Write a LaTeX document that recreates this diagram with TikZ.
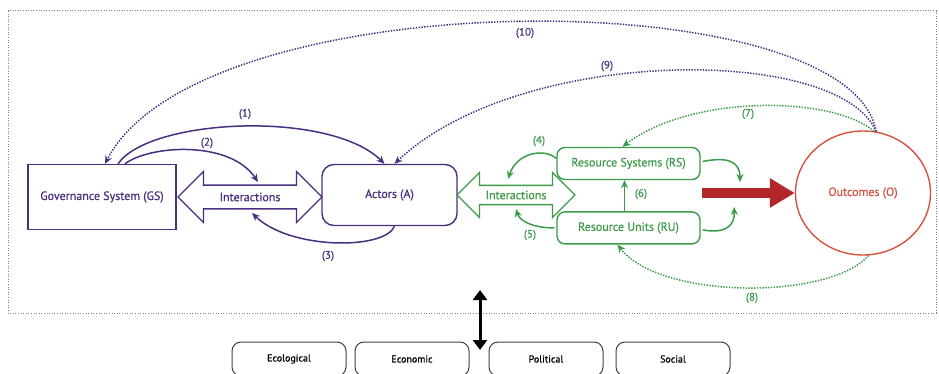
\documentclass[tikz,border=0pt]{standalone}
\usepackage{fontspec}
\setmainfont{PT Sans}
\newfontfamily\diagfont{PT Sans}[FakeBold=0.6]
\usetikzlibrary{calc}
\usetikzlibrary{positioning}
\usetikzlibrary{shapes.geometric,shapes.arrows,arrows.meta}
\definecolor{gsviolet}{HTML}{4A2F80}
\definecolor{rsgreen}{HTML}{3C9B48}
\definecolor{outred}{HTML}{D5533F}
\definecolor{arrowred}{HTML}{B3272B}
\tikzset{
    every node/.style={font=\diagfont\fontsize{12}{14}\selectfont},
    link/.style={line width=1.5pt, -{Stealth[length=8pt,width=7pt]}},
    feedback/.style={link, dash pattern=on 1.4pt off 1.4pt}
}

\begin{document}
\begin{tikzpicture}[
        x=1pt, y=-1pt,
        gsbox/.style={rectangle, draw=gsviolet, text=gsviolet, line width=1.4pt, minimum width=148pt, minimum height=65pt},
        actbox/.style={rectangle, rounded corners=12pt, draw=gsviolet, text=gsviolet, line width=1.4pt, minimum width=135pt, minimum height=61pt},
        rsbox/.style={rectangle, rounded corners=8pt, draw=rsgreen, text=rsgreen, line width=1.4pt, minimum width=143pt, minimum height=32pt},
        outcome/.style={ellipse, draw=outred, text=outred, line width=1.4pt, minimum width=135pt, minimum height=124pt},
        interact/.style={double arrow, double arrow head extend=8pt, line width=1.4pt, inner sep=2pt},
        context/.style={rectangle, rounded corners=9pt, draw=black!75, line width=1pt, minimum width=114pt, minimum height=34pt, font=\diagfont\fontsize{10}{12}\selectfont},
        num/.style={font=\diagfont\fontsize{11}{13}\selectfont},
        frame/.style={draw=black!50, dash pattern=on 1pt off 1.6pt, line width=1pt},
    ]
    \useasboundingbox (0,0) rectangle (939,374);

    \draw[frame] (8,11) rectangle (936,313);

    \node[gsbox]       (GS)   at (102,197)   {Governance System (GS)};
    \node[interact, draw=gsviolet, text=gsviolet, minimum height=144pt, minimum width=51pt]
                       (IA)   at (250,197)   {Interactions};
    \node[actbox]      (A)    at (389.5,195) {Actors (A)};
    \node[interact, draw=rsgreen, text=rsgreen, minimum height=118pt, minimum width=45pt, double arrow head extend=9.5pt]
                       (IR)   at (516,195)   {Interactions};
    \node[rsbox]       (RS)   at (628.5,163.5) {Resource Systems (RS)};
    \node[rsbox]       (RU)   [below=31pt of RS] {Resource Units (RU)};
    \node[outcome]     (O)    at (863,193)   {Outcomes (O)};

    \node[context]     (Eco)  at (289,359)   {Ecological};
    \node[context]     (Econ) [right=8pt of Eco]   {Economic};
    \node[context]     (Pol)  [right=19pt of Econ] {Political};
    \node[context]     (Soc)  [right=12pt of Pol]  {Social};

    \coordinate (RSin)  at (740,182);
    \coordinate (RUin)  at (734,207);
    \coordinate (Rtail) at (702,193);
    \coordinate (Ctop)  at (480,290);
    \coordinate (Cbot)  at (480,350);

    % governance side
    \draw[link, gsviolet] ($(GS.north)+(16,0)$) .. controls (150,118) and (330,110) .. ($(A.north)+(-5,0)$);
    \draw[link, gsviolet] ($(GS.north)+(23,0)$) .. controls (150,145) and (230,140) .. ($(IA.center)+(8,-15)$);
    \draw[link, gsviolet] ($(A.south)+(5,0)$) .. controls (385,250) and (290,250) .. ($(IA.center)+(2,16)$);

    \node[num, text=gsviolet] (n1) at (245,114) {(1)};
    \node[num, text=gsviolet] (n2) at (207,143) {(2)};
    \node[num, text=gsviolet] (n3) at (328,256) {(3)};

    % resource side
    \draw[link, rsgreen] ($(RS.west)+(0,-5)$) .. controls (545,148) and (517,152) .. ($(IR.center)+(-8,-16)$);
    \draw[link, rsgreen] ($(RU.west)+(-2,0)$) .. controls (535,228) and (520,222) .. ($(IR.center)+(0,14)$);
    \draw[link, rsgreen] ($(RU.north)+(-4,0)$) -- ($(RS.south)+(-4,0)$);
    \draw[link, rsgreen] ($(RS.east)+(2,-2)$) .. controls (725,157) and (740,160) .. (RSin);
    \draw[link, rsgreen] ($(RU.east)+(2,2)$) .. controls (725,234) and (735,226) .. (RUin);

    \node[num, text=rsgreen] (n4) at (539,141) {(4)};
    \node[num, text=rsgreen] (n5) at (530,235) {(5)};
    \node[num, text=rsgreen] (n6) at (641,194) {(6)};

    \draw[arrowred, line width=10pt, -{Triangle[length=25pt,width=28pt]}] (Rtail) -- (O.west);

    % feedback from outcomes
    \draw[feedback, rsgreen] (O.80) .. controls (830,95) and (690,95) .. ($(RS.north)+(-6,0)$);
    \draw[feedback, rsgreen] (O.-85) .. controls (830,300) and (660,300) .. ($(RU.south)+(-11,0)$);
    \draw[feedback, gsviolet] (O.78) .. controls (840,45) and (520,45) .. ($(A.north)+(5,0)$);
    \draw[feedback, gsviolet] (O.78) .. controls (850,-20) and (200,-20) .. ($(GS.north)+(3,0)$);

    \node[num, text=rsgreen]  (n7)  at (748,114) {(7)};
    \node[num, text=rsgreen]  (n8)  at (752,298) {(8)};
    \node[num, text=gsviolet] (n9)  at (607,66)  {(9)};
    \node[num, text=gsviolet] (n10) at (525,33)  {(10)};

    \draw[line width=3pt, {Triangle[length=10pt,width=14pt]}-{Triangle[length=10pt,width=14pt]}] (Ctop) -- (Cbot);
\end{tikzpicture}
\end{document}
